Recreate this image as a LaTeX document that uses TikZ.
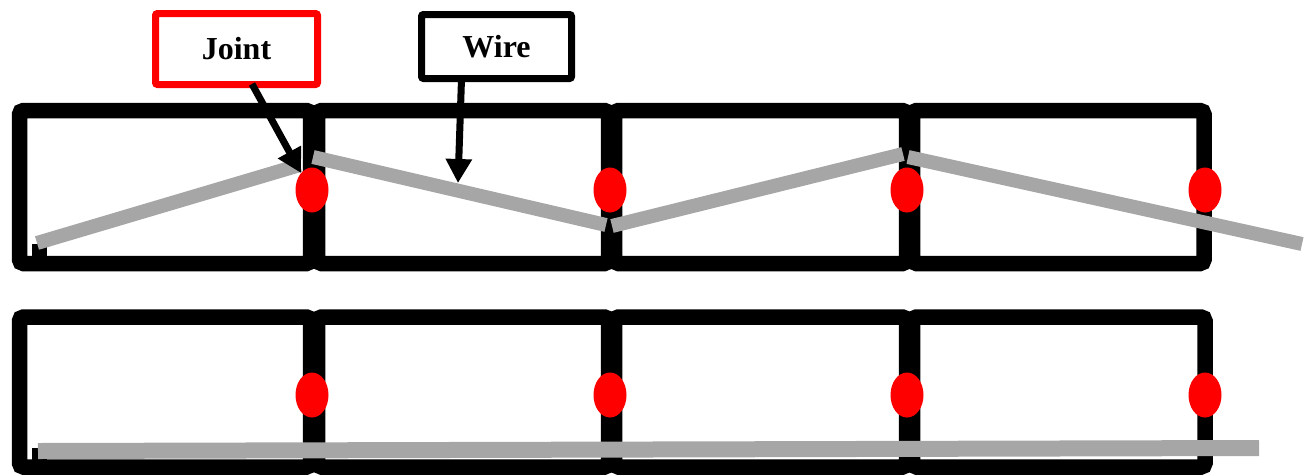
\documentclass[tikz,border=0pt]{standalone}
\usepackage{fontspec}
\setmainfont{Liberation Serif}
\usetikzlibrary{arrows.meta,shapes.geometric}
\definecolor{wiregray}{HTML}{A6A6A6}
\begin{document}
\begin{tikzpicture}[x=1pt,y=-1pt,
  frame/.style={draw=black,line width=15.5pt,rounded corners=4pt},
  wireseg/.style={draw=wiregray,line width=14pt,line cap=butt},
  flatwire/.style={draw=wiregray,line width=16pt,line cap=butt},
  jointdot/.style={ellipse,fill=red,draw=none,minimum width=33pt,minimum height=45pt,inner sep=0pt},
  lbl/.style={rectangle,line width=7pt,rounded corners=2pt,fill=white,inner sep=0pt,
    font=\bfseries\fontsize{32}{32}\selectfont},
  arr/.style={draw=black,line width=7pt,-{Triangle[length=24pt,width=25pt]}}]
\useasboundingbox (0,0) rectangle (1306,475);
% top row boxes
\draw[frame] (19.5,110.5) rectangle (310.5,263.5);
\draw[frame] (317.5,110.5) rectangle (608.5,263.5);
\draw[frame] (614.5,110.5) rectangle (906.5,263.5);
\draw[frame] (912.5,110.5) rectangle (1204,263.5);
% bottom row boxes
\draw[frame] (19.5,317) rectangle (310.5,467);
\draw[frame] (317.5,317) rectangle (608.5,467);
\draw[frame] (614.5,317) rectangle (906.5,467);
\draw[frame] (912.5,317) rectangle (1205,467);
% small corner squares
\fill[black] (32,244) rectangle (47,256);
\fill[black] (32,448) rectangle (47,460);
% top wire
\coordinate (a0) at (37,243);
\coordinate (a1) at (300,165);
\coordinate (b0) at (313,157);
\coordinate (b1) at (606,225);
\coordinate (c0) at (612,226);
\coordinate (c1) at (903,154);
\coordinate (d0) at (908,157);
\coordinate (d1) at (1302,244);
\draw[wireseg] (a0) -- (a1);
\draw[wireseg] (b0) -- (b1);
\draw[wireseg] (c0) -- (c1);
\draw[wireseg] (d0) -- (d1);
% bottom wire
\coordinate (e0) at (38,451);
\coordinate (e1) at (1259,448);
\draw[flatwire] (e0) -- (e1);
% joints
\node[jointdot] (j1) at (312,190) {};
\node[jointdot] (j2) at (610,190) {};
\node[jointdot] (j3) at (907,190) {};
\node[jointdot] (j4) at (1205,190) {};
\node[jointdot] (k1) at (312,395) {};
\node[jointdot] (k2) at (610,395) {};
\node[jointdot] (k3) at (907,395) {};
\node[jointdot] (k4) at (1205,395) {};
% labels
\node[lbl,draw=red,minimum width=162pt,minimum height=71pt] (joint) at (236.5,49) {Joint};
\node[lbl,draw=black,minimum width=150pt,minimum height=64pt] (wire) at (496.5,46.5) {Wire};
\coordinate (jtip) at (301,173);
\coordinate (wtip) at (458,183);
\draw[arr] ([xshift=15.5pt,yshift=4pt]joint.south) -- (jtip);
\draw[arr] ([xshift=-35pt,yshift=3pt]wire.south) -- (wtip);
\end{tikzpicture}
\end{document}
